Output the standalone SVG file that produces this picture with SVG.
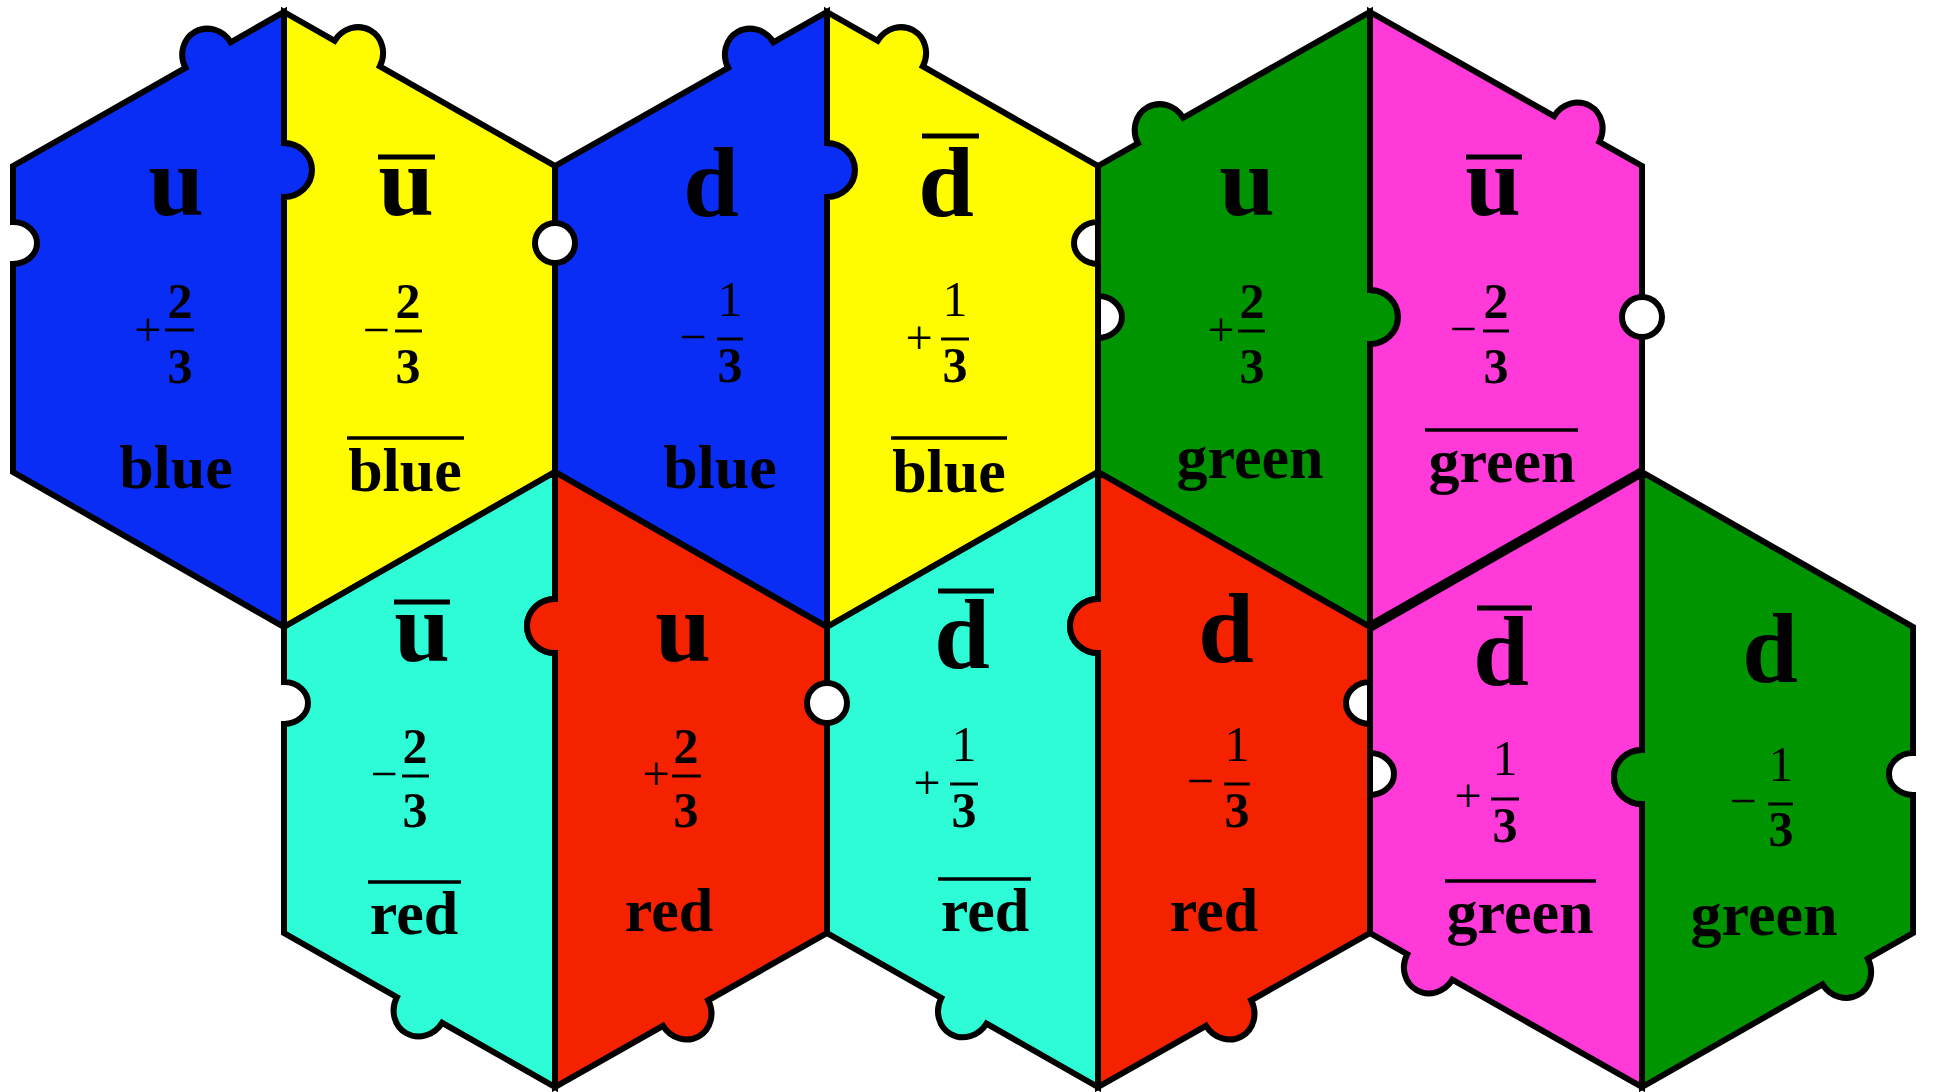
<svg xmlns="http://www.w3.org/2000/svg" width="1933" height="1092" viewBox="0 0 1933 1092">
<style>
.p{stroke:#000;stroke-width:6;stroke-linejoin:miter}
.blue{fill:#0a2df5}.yellow{fill:#fffb00}.cyan{fill:#2efcd6}.red{fill:#f52200}.green{fill:#009500}.mag{fill:#ff3ad8}
.hole{fill:#fff;stroke:#000;stroke-width:6}
text{font-family:"Liberation Serif","Times New Roman",serif;text-anchor:middle;fill:#000}
.q{font-size:100px;font-weight:bold}
.lbl{font-size:62px;font-weight:bold}
.nb{font-size:50px;font-weight:bold}
.nr{font-size:50px;font-weight:normal}
.sg{font-size:48px}
.qb{stroke:#000;stroke-width:5}
.lb{stroke:#000;stroke-width:3.5}
.fl{stroke:#000;stroke-width:3}
</style>
<rect width="1933" height="1092" fill="#fff"/>
<g id="pieces">
<path id="p1" class="p blue" d="M13 166 L185.5 67.9 A26 28 -29.6 0 1 230.7 42.3 L284 12 L284 143 A28 27 0 0 1 284 197 L284 627 L13 472 L13 264 A24 21 0 0 0 13 222 Z"/>
<path id="p2" class="p yellow" d="M284 12 L334.6 40.8 A26 28 29.6 0 1 379.8 66.4 L555 166 L555 472 L284 627 L284 197 A28 27 0 0 0 284 143 Z"/>
<path id="p3" class="p blue" d="M555 166 L728.2 67.9 A26 28 -29.6 0 1 773.4 42.3 L827 12 L827 143 A28 27 0 0 1 827 197 L827 627 L555 472 Z"/>
<path id="p4" class="p yellow" d="M827 12 L877.6 40.8 A26 28 29.6 0 1 922.8 66.4 L1098 166 L1098 222 A24 21 0 0 0 1098 264 L1098 472 L827 627 L827 197 A28 27 0 0 0 827 143 Z"/>
<path id="p5" class="p green" d="M1098 166 L1138 143.4 A26 28 -29.6 0 1 1183.2 117.8 L1370 12 L1370 290 A28 27 0 0 1 1370 344 L1370 627 L1098 472 L1098 338 A24 21 0 0 0 1098 296 Z"/>
<path id="p6" class="p mag" d="M1370 12 L1554.1 116.2 A26 28 29.6 0 1 1599.3 141.8 L1642 166 L1642 472 L1370 627 L1370 344 A28 27 0 0 0 1370 290 Z"/>
<path id="p7" class="p cyan" d="M284 627 L555 472 L555 599 A28 27 0 0 0 555 653 L555 1087 L442.1 1022.8 A26 28 29.6 0 1 396.9 997.2 L284 933 L284 724 A24 21 0 0 0 284 682 Z"/>
<path id="p8" class="p red" d="M555 472 L827 627 L827 933 L708.2 1000.3 A26 28 -29.6 0 1 663 1025.9 L555 1087 L555 653 A28 27 0 0 1 555 599 Z"/>
<path id="p9" class="p cyan" d="M827 627 L1098 472 L1098 599 A28 27 0 0 0 1098 653 L1098 1087 L986.5 1023.6 A26 28 29.6 0 1 941.3 998 L827 933 Z"/>
<path id="p10" class="p red" d="M1098 472 L1370 627 L1370 682 A24 21 0 0 0 1370 724 L1370 933 L1251.2 1000.3 A26 28 -29.6 0 1 1206 1025.9 L1098 1087 L1098 653 A28 27 0 0 1 1098 599 Z"/>
<path id="p11" class="p mag" d="M1370 627 L1642 472 L1642 750 A28 27 0 0 0 1642 804 L1642 1087 L1452.4 979.7 A26 28 29.6 0 1 1407.2 954.1 L1370 933 L1370 795 A24 21 0 0 0 1370 753 Z"/>
<path id="p12" class="p green" d="M1642 472 L1913 627 L1913 753 A24 21 0 0 0 1913 795 L1913 933 L1867.8 958.7 A26 28 -29.6 0 1 1822.6 984.3 L1642 1087 L1642 804 A28 27 0 0 1 1642 750 Z"/>
</g>
<g id="connectors">
<line x1="1642" y1="472" x2="1370" y2="627" stroke="#000" stroke-width="10"/>
<circle class="hole" cx="555" cy="243" r="20"/>
<circle class="hole" cx="1642" cy="317" r="20"/>
<circle class="hole" cx="827" cy="703" r="20"/>
</g>
<g id="t1">
<text class="q" x="176" y="215">u</text>
<text class="sg" x="148" y="346">+</text>
<text class="nb" x="180" y="318">2</text><line class="fl" x1="165" y1="330" x2="194" y2="330"/><text class="nb" x="180" y="383">3</text>
<text class="lbl" x="176" y="488">blue</text>
</g>
<g id="t2">
<text class="q" x="406" y="215">u</text><line class="qb" x1="378" y1="157" x2="435" y2="157"/>
<text class="sg" x="376" y="346">−</text>
<text class="nb" x="408" y="318">2</text><line class="fl" x1="395" y1="331" x2="422" y2="331"/><text class="nb" x="408" y="383">3</text>
<text class="lbl" x="405" y="491">blue</text><line class="lb" x1="347" y1="438" x2="464" y2="438"/>
</g>
<g id="t3">
<text class="q" x="711" y="216">d</text>
<text class="sg" x="693" y="353">−</text>
<text class="nr" x="730" y="316">1</text><line class="fl" x1="717" y1="339" x2="743" y2="339"/><text class="nb" x="730" y="382">3</text>
<text class="lbl" x="720" y="488">blue</text>
</g>
<g id="t4">
<text class="q" x="946" y="216">d</text><line class="qb" x1="922" y1="136" x2="979" y2="136"/>
<text class="sg" x="919" y="354">+</text>
<text class="nr" x="955" y="316">1</text><line class="fl" x1="941" y1="339" x2="969" y2="339"/><text class="nb" x="955" y="382">3</text>
<text class="lbl" x="949" y="492">blue</text><line class="lb" x1="891" y1="438" x2="1007" y2="438"/>
</g>
<g id="t5">
<text class="q" x="1247" y="215">u</text>
<text class="sg" x="1221" y="346">+</text>
<text class="nb" x="1252" y="318">2</text><line class="fl" x1="1238" y1="331" x2="1265" y2="331"/><text class="nb" x="1252" y="383">3</text>
<text class="lbl" x="1250" y="478">green</text>
</g>
<g id="t6">
<text class="q" x="1493" y="215">u</text><line class="qb" x1="1466" y1="157" x2="1522" y2="157"/>
<text class="sg" x="1463" y="345">−</text>
<text class="nb" x="1496" y="318">2</text><line class="fl" x1="1483" y1="331" x2="1509" y2="331"/><text class="nb" x="1496" y="383">3</text>
<text class="lbl" x="1502" y="482">green</text><line class="lb" x1="1425" y1="430" x2="1578" y2="430"/>
</g>
<g id="t7">
<text class="q" x="422" y="661">u</text><line class="qb" x1="394" y1="602" x2="450" y2="602"/>
<text class="sg" x="384" y="790">−</text>
<text class="nb" x="415" y="763">2</text><line class="fl" x1="402" y1="776" x2="429" y2="776"/><text class="nb" x="415" y="827">3</text>
<text class="lbl" x="414" y="934">red</text><line class="lb" x1="368" y1="882" x2="461" y2="882"/>
</g>
<g id="t8">
<text class="q" x="683" y="661">u</text>
<text class="sg" x="656" y="790">+</text>
<text class="nb" x="686" y="763">2</text><line class="fl" x1="672" y1="776" x2="701" y2="776"/><text class="nb" x="686" y="827">3</text>
<text class="lbl" x="669" y="931">red</text>
</g>
<g id="t9">
<text class="q" x="962" y="668">d</text><line class="qb" x1="938" y1="591" x2="994" y2="591"/>
<text class="sg" x="927" y="799">+</text>
<text class="nr" x="964" y="761">1</text><line class="fl" x1="950" y1="784" x2="978" y2="784"/><text class="nb" x="964" y="827">3</text>
<text class="lbl" x="985" y="931">red</text><line class="lb" x1="938" y1="879" x2="1031" y2="879"/>
</g>
<g id="t10">
<text class="q" x="1226" y="662">d</text>
<text class="sg" x="1200" y="797">−</text>
<text class="nr" x="1237" y="761">1</text><line class="fl" x1="1224" y1="784" x2="1250" y2="784"/><text class="nb" x="1237" y="827">3</text>
<text class="lbl" x="1214" y="931">red</text>
</g>
<g id="t11">
<text class="q" x="1501" y="685">d</text><line class="qb" x1="1477" y1="608" x2="1532" y2="608"/>
<text class="sg" x="1468" y="812">+</text>
<text class="nr" x="1505" y="775">1</text><line class="fl" x1="1491" y1="799" x2="1519" y2="799"/><text class="nb" x="1505" y="842">3</text>
<text class="lbl" x="1520" y="933">green</text><line class="lb" x1="1445" y1="881" x2="1596" y2="881"/>
</g>
<g id="t12">
<text class="q" x="1770" y="682">d</text>
<text class="sg" x="1743" y="817">−</text>
<text class="nr" x="1781" y="781">1</text><line class="fl" x1="1768" y1="804" x2="1793" y2="804"/><text class="nb" x="1781" y="846">3</text>
<text class="lbl" x="1764" y="935">green</text>
</g>
</svg>
